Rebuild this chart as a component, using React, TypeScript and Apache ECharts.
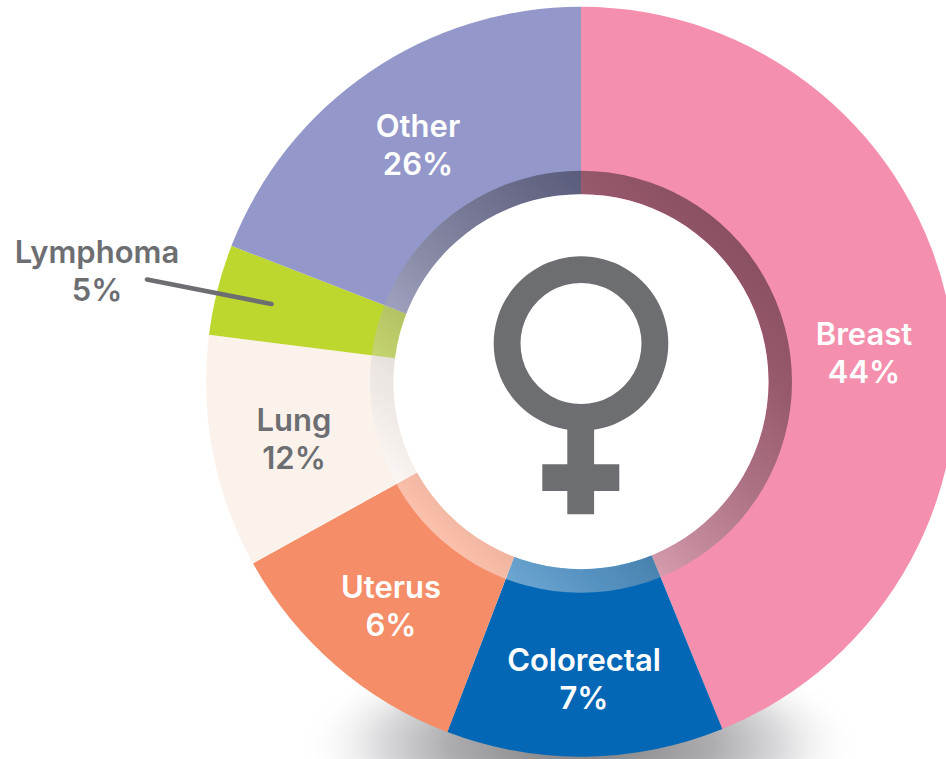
import React, { useEffect, useRef } from "react";
import * as echarts from "echarts";

const categories = ["Breast", "Colorectal", "Uterus", "Lung", "Lymphoma", "Other"];
// Percentages printed on the chart.
const printedPercent = [44, 7, 6, 12, 5, 26];
// Share of the circle each slice actually occupies in the picture.
const drawnShare = [43.85, 11.95, 11.15, 10.05, 3.9, 19.1];
const sliceColors = ["#f48fad", "#0367b5", "#f58d68", "#fbf2ec", "#bdd72e", "#9397c9"];
const labelColors = ["#ffffff", "#ffffff", "#ffffff", "#6d6e71", "#6d6e71", "#ffffff"];
const labelCentres: [number, number][] = [
  [864, 352], [584, 678], [391, 605], [294, 438], [97, 270], [418, 144],
];

const CX = 581;
const CY = 381.7;
const GREY = "#6d6e71";
const FONT = "Inter, sans-serif";

export default function App() {
  const ref = useRef<HTMLDivElement>(null);
  useEffect(() => {
    document.body.style.margin = "0";
    document.body.style.overflow = "hidden";
    const chart = echarts.init(ref.current!, undefined, { renderer: "svg" });
    chart.setOption({
      animation: false,
      backgroundColor: "#ffffff",
      graphic: {
        elements: [
          {
            type: "ellipse",
            z: 0,
            silent: true,
            shape: { cx: CX, cy: 745, rx: 280, ry: 108 },
            style: {
              fill: {
                type: "radial",
                x: 0.5,
                y: 0.5,
                r: 0.5,
                colorStops: [
                  { offset: 0, color: "rgba(125,125,127,1)" },
                  { offset: 0.47, color: "rgba(173,173,175,1)" },
                  { offset: 0.72, color: "rgba(220,220,222,1)" },
                  { offset: 1, color: "rgba(255,255,255,0)" },
                ],
              },
            },
          },
          {
            type: "group",
            z: 50,
            silent: true,
            children: [
              { type: "ring", z: 50, shape: { cx: CX, cy: 343.5, r: 87.3, r0: 60.5 }, style: { fill: GREY } },
              { type: "rect", z: 50, shape: { x: 567.3, y: 425, width: 26.8, height: 89.3 }, style: { fill: GREY } },
              { type: "rect", z: 50, shape: { x: 542.3, y: 464.3, width: 77, height: 26.7 }, style: { fill: GREY } },
            ],
          },
          {
            type: "line",
            z: 60,
            silent: true,
            shape: { x1: 147, y1: 279.5, x2: 271.5, y2: 304 },
            style: { stroke: GREY, lineWidth: 4.6, lineCap: "round" },
          },
        ],
      },
      series: [
        {
          type: "pie",
          z: 2,
          silent: true,
          center: [CX, CY],
          radius: [0, 375],
          startAngle: 90,
          clockwise: true,
          sort: null,
          minShowLabelAngle: 0,
          avoidLabelOverlap: false,
          emphasis: { disabled: true },
          labelLine: { show: false },
          label: {
            show: true,
            position: "inside",
            fontFamily: FONT,
            fontWeight: 600,
            fontSize: 31,
            lineHeight: 38,
            align: "center",
            verticalAlign: "middle",
            formatter: (p: any) => `${p.name}\n${printedPercent[p.dataIndex]}%`,
          },
          labelLayout: (p: any) => ({
            x: labelCentres[p.dataIndex][0],
            y: labelCentres[p.dataIndex][1],
            align: "center",
            verticalAlign: "middle",
          }),
          data: categories.map((name, i) => ({
            name,
            value: drawnShare[i],
            itemStyle: { color: sliceColors[i] },
            label: { color: labelColors[i] },
          })),
        },
        {
          type: "pie",
          z: 3,
          silent: true,
          center: [CX, CY],
          radius: [187.5, 211],
          label: { show: false },
          labelLine: { show: false },
          emphasis: { disabled: true },
          data: [
            {
              value: 1,
              name: "ring",
              itemStyle: {
                color: {
                  type: "linear",
                  x: 1,
                  y: 0,
                  x2: 0,
                  y2: 1,
                  colorStops: [
                    { offset: 0, color: "rgba(0,0,0,0.5)" },
                    { offset: 0.25, color: "rgba(0,0,0,0.39)" },
                    { offset: 0.55, color: "rgba(130,130,130,0.45)" },
                    { offset: 0.72, color: "rgba(210,210,210,0.4)" },
                    { offset: 0.85, color: "rgba(255,255,255,0.45)" },
                    { offset: 1, color: "rgba(255,255,255,0.6)" },
                  ],
                },
              },
            },
          ],
        },
        {
          type: "pie",
          z: 4,
          silent: true,
          center: [CX, CY],
          radius: [0, 187.5],
          label: { show: false },
          labelLine: { show: false },
          emphasis: { disabled: true },
          data: [{ value: 1, name: "centre", itemStyle: { color: "#ffffff" } }],
        },
      ],
    });
    return () => chart.dispose();
  }, []);
  return <div ref={ref} style={{ width: 946, height: 759 }} />;
}
